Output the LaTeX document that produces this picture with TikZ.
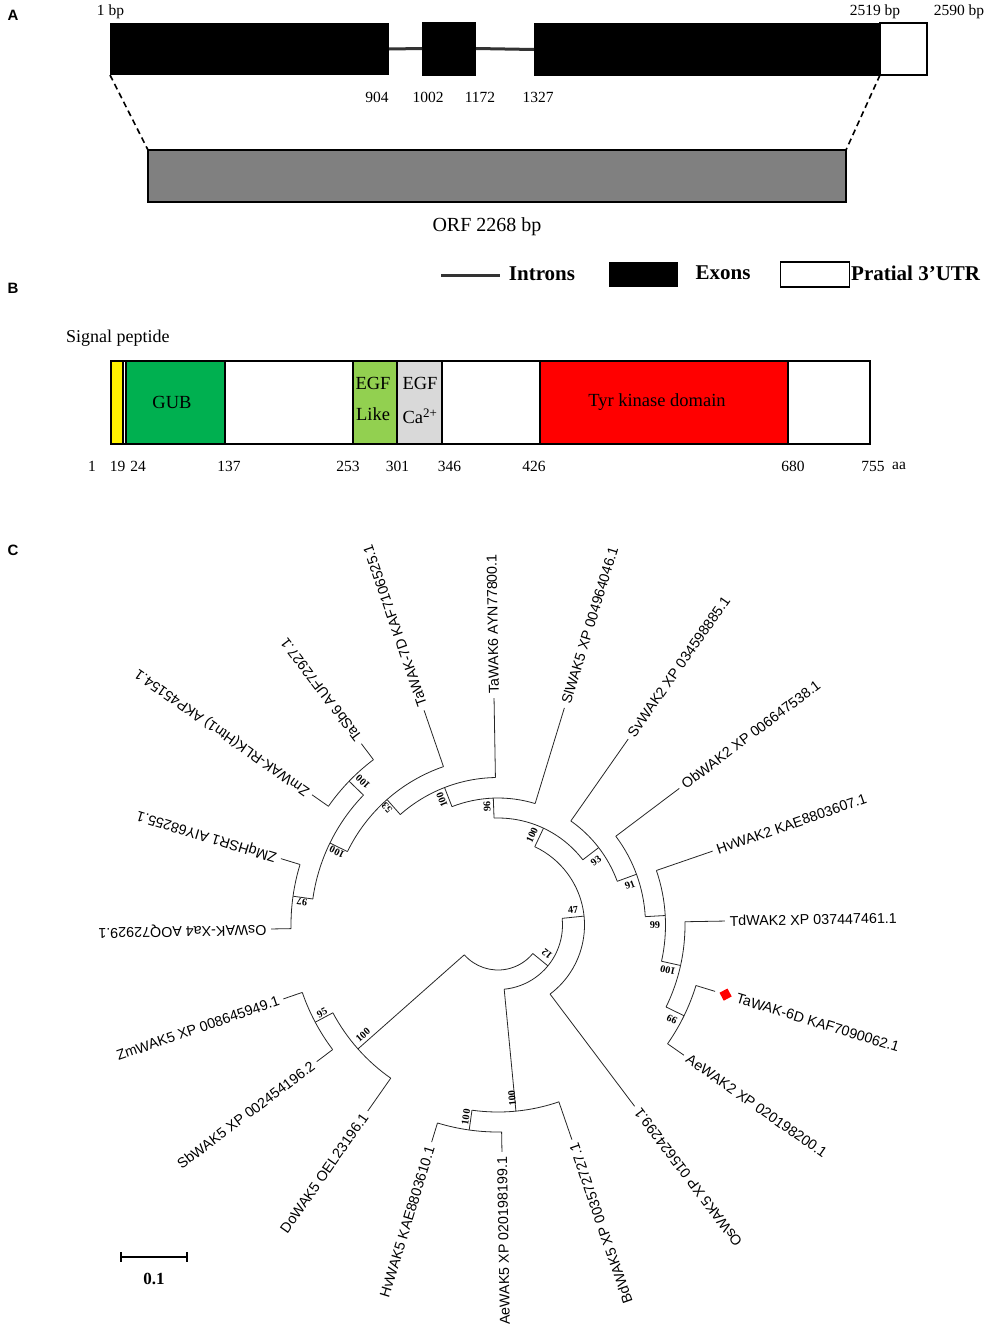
\documentclass[tikz,border=0pt]{standalone}
\usepackage{fontspec}
\setmainfont{Liberation Serif}
\newfontfamily\arialfont{Liberation Sans}
\usetikzlibrary{calc}
\definecolor{gubgreen}{HTML}{00B050}
\definecolor{egfgreen}{HTML}{92D050}
\definecolor{egfgrey}{HTML}{D9D9D9}
\definecolor{orfgrey}{HTML}{808080}
\newcommand\TreeN[4]{\coordinate (#1) at ($(C)+(#2:#3pt)$);\coordinate (#1b) at ($(C)+(#2:#4pt)$);\draw[br] (#1b) -- (#1);}
\newcommand\TreeArc[4]{\draw[br] (#1b) arc[start angle=#2, end angle=#3, radius=#4pt];}
\newcommand\TreeLab[5]{\node[lf, rotate=#3, anchor=#4] (#1t) at ($(C)+(#2:229pt)$) {#5};}
\begin{document}
\begin{tikzpicture}[x=1pt,y=-1pt,
  br/.style={line width=0.8pt, black!85},
  lf/.style={font=\arialfont\fontsize{14.3}{16}\selectfont, inner sep=2.5pt},
  bs/.style={font=\bfseries\fontsize{10.2}{11}\selectfont, inner sep=0.5pt},
  sm/.style={font=\fontsize{15.5}{17}\selectfont, inner sep=0pt},
  mid/.style={font=\fontsize{18.5}{20}\selectfont, inner sep=0pt},
  legtxt/.style={font=\bfseries\fontsize{21}{23}\selectfont, inner sep=0pt},
  panel/.style={font=\arialfont\bfseries\fontsize{15}{17}\selectfont, inner sep=0pt},
  exon/.style={fill=black, inner sep=0pt, outer sep=0pt},
  intron/.style={line width=3pt, black!80},
  dashln/.style={dashed, dash pattern=on 6pt off 4pt, line width=1.6pt},
  seg/.style={line width=1.2pt}]
\path[use as bounding box] (0,0) rectangle (987,1339);

% ---------- Panel A ----------
\node[panel] (pA) at (13,15) {A};
\node[exon, minimum width=279pt, minimum height=52pt] (e1) at (249.5,49) {};
\node[exon, minimum width=54pt, minimum height=54pt] (e2) at (449,48.5) {};
\node[exon, minimum width=346pt, minimum height=53pt] (e3) at (707,49.5) {};
\node[draw=black, fill=white, line width=1.2pt, inner sep=0pt, outer sep=0pt, minimum width=47pt, minimum height=52pt] (utr) at (903.5,49) {};
\draw[intron] (e1.east) -- (e2.west);
\draw[intron] (e2.east) -- (e3.west);
\node[sm] (t1) at (110.5,12) {1 bp};
\node[sm] (t2) at (875,12) {2519 bp};
\node[sm] (t3) at (959,12) {2590 bp};
\node[sm] (t4) at (377,97.5) {904};
\node[sm] (t5) at (428,97.5) {1002};
\node[sm] (t6) at (480,97.5) {1172};
\node[sm] (t7) at (538,97.5) {1327};
\node[draw=black, fill=orfgrey, line width=1.5pt, inner sep=0pt, outer sep=0pt, minimum width=698pt, minimum height=52pt] (orf) at (497,176) {};
\draw[dashln] (e1.south west) -- (orf.north west);
\draw[dashln] (utr.south west) -- (orf.north east);
\node[font=\fontsize{20}{22}\selectfont, inner sep=0pt] (orft) at (487,227) {ORF 2268 bp};
% legend
\coordinate (li1) at (441,275);
\coordinate (li2) at (500,275);
\draw[intron] (li1) -- (li2);
\node[legtxt] (lt1) at (542,274) {Introns};
\node[exon, minimum width=69pt, minimum height=25pt] (lex) at (643.5,274.5) {};
\node[legtxt] (lt2) at (723,273) {Exons};
\node[draw=black, fill=white, line width=1.2pt, inner sep=0pt, minimum width=69pt, minimum height=25pt] (lutr) at (815,274.5) {};
\node[legtxt, anchor=west] (lt3) at (851,273) {Pratial 3'UTR};

% ---------- Panel B ----------
\node[panel] (pB) at (13,288) {B};
\node[font=\fontsize{18}{20}\selectfont, inner sep=0pt, anchor=west] (sp) at (66,338) {Signal peptide};
\fill[yellow] (111,361) rectangle (123,444);
\fill[gubgreen] (126,361) rectangle (225,444);
\fill[egfgreen] (353,361) rectangle (397,444);
\fill[egfgrey] (397,361) rectangle (442,444);
\fill[red] (540,361) rectangle (788,444);
\foreach \xx in {123,126,225,353,397,442,540,788} {\draw[seg] (\xx,361) -- (\xx,444);}
\draw[line width=1.8pt] (111,361) rectangle (870,444);
\node[mid] (gub) at (172,402) {GUB};
\node[mid] (egf1a) at (373,383) {EGF};
\node[mid] (egf1b) at (373,414) {Like};
\node[mid] (egf2a) at (420,383) {EGF};
\node[mid] (egf2b) at (420,416) {Ca\textsuperscript{2+}};
\node[mid] (tyr) at (657,402) {Tyr kinase domain};
\node[sm] (a1) at (92,466) {1};
\node[sm] (a2) at (117.5,466) {19};
\node[sm] (a3) at (138,466) {24};
\node[sm] (a4) at (229,466) {137};
\node[sm] (a5) at (348,466) {253};
\node[sm] (a6) at (397.5,466) {301};
\node[sm] (a7) at (449.5,466) {346};
\node[sm] (a8) at (534,466) {426};
\node[sm] (a9) at (793,466) {680};
\node[sm] (a10) at (873,466) {755};
\node[sm] (a11) at (899,466) {aa};

% ---------- Panel C ----------
\node[panel] (pC) at (13,550) {C};
\coordinate (C) at (498,925);
% leaves
\TreeN{k0}{1}{227}{187}
\TreeN{k1}{19}{227}{167.5}
\TreeN{k2}{37}{227}{147.5}
\TreeN{k3}{55}{227}{127}
\TreeN{k4}{73}{227}{127}
\TreeN{k5}{91}{227}{147.5}
\TreeN{k6}{109}{227}{167.5}
\TreeN{k7}{127}{227}{207}
\TreeN{k8}{145}{227}{207}
\TreeN{k9}{163}{227}{207}
\TreeN{k10}{181}{227}{207}
\TreeN{k11}{199}{227}{207}
\TreeN{k12}{217}{227}{207}
\TreeN{k13}{235}{227}{187}
\TreeN{k14}{253}{227}{207}
\TreeN{k15}{271}{227}{207}
\TreeN{k16}{289}{227}{187}
\TreeN{k17}{307}{227}{86.5}
\TreeN{k18}{325}{227}{207}
\TreeN{k19}{343}{227}{207}
% internal nodes
\TreeN{n13}{334}{207}{187}
\TreeN{n12}{347.5}{187}{167.5}
\TreeN{n11}{3.25}{167.5}{147.5}
\TreeN{n10}{20.125}{147.5}{127}
\TreeN{n9}{37.56}{127}{107}
\TreeN{n1}{136}{207}{187}
\TreeN{n3}{172}{207}{187}
\TreeN{n4}{154}{187}{167.5}
\TreeN{n5}{131.5}{167.5}{147.5}
\TreeN{n6}{111.25}{147.5}{127}
\TreeN{n7}{92.125}{127}{107}
\TreeN{n8}{64.84}{107}{86.5}
\TreeN{n14}{5.92}{86.5}{64.5}
\TreeN{n18}{262}{207}{187}
\TreeN{n17}{275.5}{187}{64.5}
\TreeN{n15}{320.7}{64.5}{45}
\TreeN{n20}{208}{207}{187}
\TreeN{n19}{221.5}{187}{45}
% arcs
\TreeArc{k18}{325}{343}{207}
\TreeArc{n13}{334}{361}{187}
\TreeArc{n12}{347.5}{379}{167.5}
\TreeArc{n11}{3.25}{37}{147.5}
\TreeArc{n10}{20.125}{55}{127}
\TreeArc{n9}{37.56}{92.125}{107}
\TreeArc{k4}{73}{111.25}{127}
\TreeArc{k5}{91}{131.5}{147.5}
\TreeArc{k6}{109}{154}{167.5}
\TreeArc{n1}{136}{172}{187}
\TreeArc{k7}{127}{145}{207}
\TreeArc{k9}{163}{181}{207}
\TreeArc{k17}{307}{424.84}{86.5}
\TreeArc{n17}{275.5}{365.92}{64.5}
\TreeArc{k14}{253}{271}{207}
\TreeArc{n18}{262}{289}{187}
\TreeArc{k11}{199}{217}{207}
\TreeArc{n20}{208}{235}{187}
\TreeArc{n19}{221.5}{320.7}{45}
% leaf labels
\TreeLab{k0}{1}{1}{west}{TdWAK2 XP 037447461.1}
\TreeLab{k1}{19}{19}{west}{HvWAK2 KAE8803607.1}
\TreeLab{k2}{37}{37}{west}{ObWAK2 XP 006647538.1}
\TreeLab{k3}{55}{55}{west}{SvWAK2 XP 034598885.1}
\TreeLab{k4}{73}{73}{west}{SlWAK5 XP 004964046.1}
\TreeLab{k5}{91}{91}{west}{TaWAK6 AYN77800.1}
\TreeLab{k6}{109}{109}{west}{TaWAK-7D KAF7106525.1}
\TreeLab{k7}{127}{127}{west}{TaSb6 AUF72927.1}
\TreeLab{k8}{145}{145}{west}{ZmWAK-RLK(Htn1) AKP45154.1}
\TreeLab{k9}{163}{163}{west}{ZMqHSR1 AIY68255.1}
\TreeLab{k10}{181}{181}{west}{OsWAK-Xa4 AOQ72929.1}
\TreeLab{k11}{199}{19}{east}{ZmWAK5 XP 008645949.1}
\TreeLab{k12}{217}{37}{east}{SbWAK5 XP 002454196.2}
\TreeLab{k13}{235}{55}{east}{DoWAK5 OEL23196.1}
\TreeLab{k14}{253}{73}{east}{HvWAK5 KAE8803610.1}
\TreeLab{k15}{271}{91}{east}{AeWAK5 XP 020198199.1}
\TreeLab{k16}{289}{109}{east}{BdWAK5 XP 003572727.1}
\TreeLab{k17}{307}{127}{east}{OsWAK5 XP 015624299.1}
\TreeLab{k18}{325}{325}{west}{AeWAK2 XP 020198200.1}
\node[fill=red, inner sep=0pt, minimum size=9pt, rotate=28] (mk) at ($(C)+(343:238pt)$) {};
\node[lf, rotate=343, anchor=west] (k19t) at ($(C)+(343:247pt)$) {TaWAK-6D KAF7090062.1};
% bootstrap values
\node[bs, rotate=136] (b1) at (363,782) {100};
\node[bs, rotate=154] (b4) at (337,852) {100};
\node[bs, rotate=172] (b3) at (302,902) {97};
\node[bs, rotate=131.5] (b5) at (387,808) {53};
\node[bs, rotate=111] (b6) at (442,800) {100};
\node[bs, rotate=92] (b7) at (487,807) {96};
\node[bs, rotate=65] (b8) at (532,835) {100};
\node[bs, rotate=37.5] (b9) at (596,861) {93};
\node[bs, rotate=20] (b10) at (630,885) {91};
\node[bs, rotate=3] (b11) at (655,925) {99};
\node[bs, rotate=167.5] (b12) at (668,970) {100};
\node[bs, rotate=154] (b13) at (672,1019) {99};
\node[bs, rotate=6] (b14) at (573,910) {47};
\node[bs, rotate=140.7] (b15) at (547,954) {12};
\node[bs, rotate=95.5] (b17) at (512,1098) {100};
\node[bs, rotate=82] (b18) at (466,1117) {100};
\node[bs, rotate=41.5] (b19) at (363,1035) {100};
\node[bs, rotate=28] (b20) at (322,1013) {95};
% scale bar
\coordinate (s1) at (121,1257);
\coordinate (s2) at (187,1257);
\draw[line width=1.5pt] (s1) -- (s2);
\draw[line width=1.5pt] ($(s1)+(0,-5)$) -- ($(s1)+(0,5)$);
\draw[line width=1.5pt] ($(s2)+(0,-5)$) -- ($(s2)+(0,5)$);
\node[font=\bfseries\fontsize{17}{19}\selectfont, inner sep=0pt] (sl) at (154,1279) {0.1};
\end{tikzpicture}
\end{document}
